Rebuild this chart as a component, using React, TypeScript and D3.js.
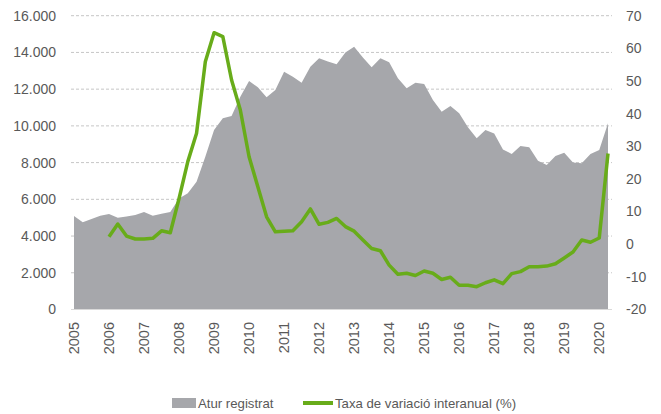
import React from 'react';
import * as d3 from 'd3';

// trimestres 2005T1 .. 2020T2
const years = d3.range(2005, 2021);
const quarters = years.flatMap(y => [1, 2, 3, 4].map(q => `${y}T${q}`)).slice(0, 62);
const tickYears = years.map(String);

// Atur registrat (persones)
const atur = [
  5090, 4750, 4930, 5110, 5200, 5000, 5060, 5150, 5310, 5110, 5220, 5310,
  6050, 6330, 6960, 8320, 9780, 10410, 10540, 11590, 12440, 12100, 11560, 11955,
  12950, 12680, 12350, 13220, 13680, 13500, 13350, 13990, 14310, 13730, 13190, 13680,
  13470, 12590, 12050, 12350, 12280, 11410, 10770, 11080, 10690, 9920, 9320, 9780,
  9580, 8720, 8470, 8900, 8830, 8100, 7870, 8360, 8540, 8000, 7960, 8470, 8690, 10140,
];

// Taxa de variació interanual (%)
const taxa: (number | null)[] = [
  null, null, null, null, 2.3, 6.2, 2.5, 1.6, 1.6, 1.8, 4.1, 3.5,
  14, 25.3, 34, 55.9, 64.8, 63.6, 50.3, 41.1, 26.8, 17.6, 8.4, 3.8,
  4.0, 4.1, 6.9, 10.8, 6.1, 6.7, 7.9, 5.4, 4.0, 1.3, -1.3, -2.0,
  -6.4, -9.2, -8.9, -9.6, -8.2, -8.9, -10.8, -10.1, -12.6, -12.6, -13.0, -11.8,
  -10.9, -12.1, -9.0, -8.4, -6.9, -6.9, -6.7, -6.0, -4.2, -2.4, 1.3, 0.6, 1.9, 27.8,
];

const leftTicks = d3.range(0, 16001, 2000);
const rightTicks = d3.range(-20, 71, 10);

const font = '"Liberation Sans", Arial, sans-serif';
const txt = '#595959';
const grey = '#a6a7ab';
const green = '#68ac1a';

export default function App() {
  const width = 661;
  const height = 414;
  const plot = { left: 71, right: 612, top: 15.7, bottom: 309.5 };

  const x = d3.scalePoint<string>().domain(quarters).range([74, 608]);
  const yL = d3.scaleLinear().domain([0, 16000]).range([plot.bottom, plot.top]);
  const yR = d3.scaleLinear().domain([-20, 70]).range([plot.bottom, plot.top]);

  const area = d3.area<number>()
    .x((_, i) => x(quarters[i])!)
    .y0(yL(0))
    .y1(d => yL(d));

  const line = d3.line<number | null>()
    .defined(d => d !== null)
    .x((_, i) => x(quarters[i])!)
    .y(d => yR(d as number));

  const fmt = (v: number) => d3.format(',')(v).replace(/,/g, '.');

  return (
    <svg width={width} height={height} style={{ position: 'absolute', left: 0, top: 0 }}
      fontFamily={font}>
      <rect width={width} height={height} fill="#fff" />
      {leftTicks.filter(t => t > 0).map(t => (
        <line key={t} x1={plot.left} x2={plot.right} y1={yL(t)} y2={yL(t)}
          stroke="#c6c6c6" strokeDasharray="3,2" />
      ))}
      <path d={area(atur)!} fill={grey} />
      <line x1={plot.left} x2={plot.right} y1={yL(0)} y2={yL(0)} stroke="#d9d9d9" />
      <path d={line(taxa)!} fill="none" stroke={green} strokeWidth={3.5} strokeLinejoin="round" />

      {leftTicks.map(t => (
        <text key={t} x={56} y={yL(t)} dy="0.35em" textAnchor="end" fontSize={14} fill={txt}>
          {fmt(t)}
        </text>
      ))}
      {rightTicks.map(t => (
        <text key={t} x={626} y={yR(t)} dy="0.35em" textAnchor="start" fontSize={14} fill={txt}>
          {t}
        </text>
      ))}
      {tickYears.map(yr => {
        const px = x(`${yr}T1`)!;
        return (
          <text key={yr} transform={`translate(${px},322) rotate(-90)`} dy="0.35em"
            textAnchor="end" fontSize={14.5} fill={txt}>
            {yr}
          </text>
        );
      })}

      <g transform="translate(0,403)">
        <rect x={172} y={-5} width={24} height={10} fill={grey} />
        <text x={198} y={0} dy="0.35em" fontSize={13.2} fill={txt}>Atur registrat</text>
        <line x1={303} x2={333} y1={0} y2={0} stroke={green} strokeWidth={4} />
        <text x={335} y={0} dy="0.35em" fontSize={13.2} fill={txt}>Taxa de variació interanual (%)</text>
      </g>
    </svg>
  );
}
